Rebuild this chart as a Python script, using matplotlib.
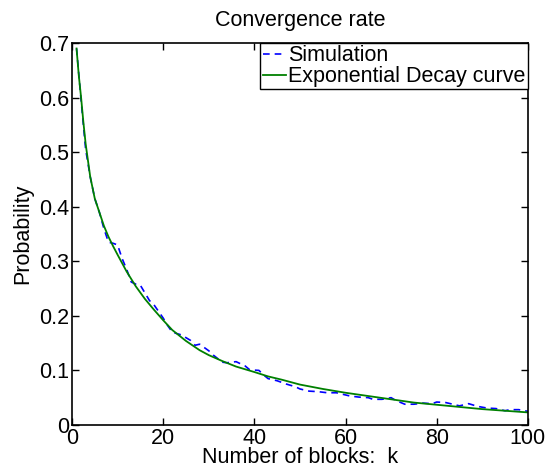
import matplotlib
matplotlib.use("Agg")
from matplotlib import pyplot as plt

plt.rcParams['font.family'] = ['Liberation Sans', 'DejaVu Sans']

# simulation results
k_sim = [1, 2, 3, 4, 5, 6, 7, 8, 9, 10, 11, 12, 13, 14, 15, 16, 17, 18, 19, 20,
         21, 22, 24, 26, 27, 28, 30, 31, 33, 34, 36, 38, 39, 41, 42, 43, 45, 47,
         49, 50, 52, 54, 56, 58, 60, 61, 63, 65, 66, 68, 70, 71, 73, 75, 77, 79,
         80, 82, 84, 85, 87, 89, 91, 93, 95, 96, 98, 100]
p_sim = [0.69, 0.595, 0.505, 0.455, 0.415, 0.39, 0.36, 0.335, 0.333, 0.33,
         0.305, 0.285, 0.262, 0.258, 0.256, 0.242, 0.228, 0.22, 0.208, 0.196,
         0.182, 0.17, 0.165, 0.155, 0.146, 0.148, 0.136, 0.128, 0.115, 0.114,
         0.116, 0.108, 0.101, 0.100, 0.092, 0.085, 0.081, 0.075, 0.070, 0.066,
         0.062, 0.061, 0.059, 0.059, 0.055, 0.053, 0.051, 0.050, 0.047, 0.047,
         0.050, 0.045, 0.038, 0.038, 0.040, 0.039, 0.042, 0.041, 0.037, 0.035,
         0.039, 0.034, 0.031, 0.030, 0.026, 0.028, 0.028, 0.025]

# fitted decay curve
k_fit = [1, 1.5, 2, 2.5, 3, 4, 5, 6, 7, 8, 9, 10, 12, 14, 16, 18, 20, 22, 25,
         28, 30, 33, 36, 40, 43, 46, 50, 55, 60, 65, 70, 75, 80, 85, 90, 95, 100]
p_fit = [0.69, 0.64, 0.60, 0.555, 0.515, 0.455, 0.415, 0.39, 0.365, 0.345,
         0.328, 0.312, 0.281, 0.254, 0.231, 0.211, 0.192, 0.174, 0.154, 0.137,
         0.128, 0.117, 0.107, 0.097, 0.089, 0.083, 0.074, 0.066, 0.059, 0.053,
         0.047, 0.041, 0.037, 0.033, 0.029, 0.026, 0.023]

fs = 15.5

fig = plt.figure(figsize=(5.58, 4.68), dpi=100)
ax = fig.add_axes([0.129, 0.092, 0.817, 0.816])

ax.plot(k_sim, p_sim, '--', color='#0000ff', lw=1.2, dashes=(4, 3), label='Simulation')
ax.plot(k_fit, p_fit, '-', color='#008000', lw=1.3, label='Exponential Decay curve')

ax.set_xlim(0, 100)
ax.set_ylim(0, 0.7)
ax.set_xticks([0, 20, 40, 60, 80, 100])
ax.set_yticks([0, 0.1, 0.2, 0.3, 0.4, 0.5, 0.6, 0.7])
ax.set_yticklabels(['0', '0.1', '0.2', '0.3', '0.4', '0.5', '0.6', '0.7'])
ax.tick_params(direction='in', length=5, width=1, top=True, right=True,
               labelsize=fs, pad=2)
for s in ax.spines.values():
    s.set_linewidth(1.2)

ax.set_title('Convergence rate', fontsize=fs, pad=12)
ax.set_xlabel('Number of blocks:  k', fontsize=fs, labelpad=-1)
ax.set_ylabel('Probability', fontsize=fs, labelpad=4)

leg = ax.legend(loc='upper right', fontsize=fs, borderaxespad=0, handlelength=1.1,
                handletextpad=0.1, labelspacing=0.0, borderpad=0.1, fancybox=False,
                framealpha=1)
leg.get_frame().set_edgecolor('black')
leg.get_frame().set_linewidth(1)

fig.savefig('out.png', dpi=100)
